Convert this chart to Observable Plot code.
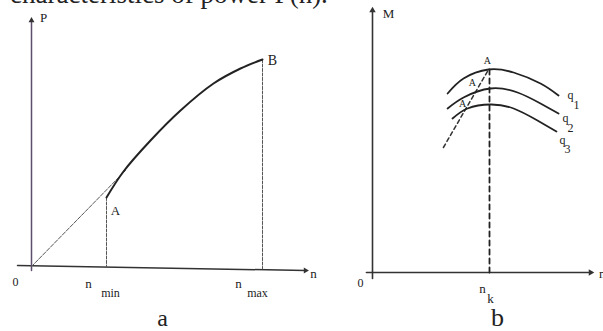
<!DOCTYPE html>
<html>
<head>
<meta charset="utf-8">
<script src="https://cdn.jsdelivr.net/npm/d3@7"></script>
<script src="https://cdn.jsdelivr.net/npm/@observablehq/plot@0.6"></script>
<style>
  html, body { margin: 0; padding: 0; background: #fff; }
  #fig { position: relative; width: 603px; height: 331px; overflow: hidden; font-family: "Liberation Serif", serif; }
  #head { position: absolute; left: 10px; top: -19px; font-size: 27px; line-height: 27px; color: #222; white-space: nowrap; }
  #pa, #pb { position: absolute; top: 0; }
  #pa { left: 0; }
  #pb { left: 300px; }
  svg { overflow: visible; }
</style>
</head>
<body>
<div id="fig">
  <div id="head">characteristics of power P(n).</div>
  <div id="pa"></div>
  <div id="pb"></div>
</div>
<script>
// ---------- Panel a : power P(n) ----------
const powerN = [3.0, 3.68, 4.76, 5.96, 7.28, 8.36, 9.24];
const powerP = [3.45, 4.75, 6.3, 7.8, 9.15, 9.9, 10.35];
const rayN = [0, 3.76];
const rayP = [0, 4.8];
const nMin = 3.0, nMax = 9.24;
const pAtMin = 3.45, pAtMax = 10.35;
const aAxisX = [-0.56, 10.96];   // n-axis extent
const aAxisY = [-0.2, 12.3];     // P-axis extent
const aLabels = [
  {n: 0.48, p: 12.45, t: "P", s: 13},
  {n: -0.64, p: -0.8, t: "0", s: 12},
  {n: 3.36, p: 2.8, t: "A", s: 13},
  {n: 9.64, p: 10.3, t: "B", s: 14},
  {n: 11.28, p: -0.35, t: "n", s: 13},
  {n: 2.28, p: -0.85, t: "n", s: 13},
  {n: 3.16, p: -1.35, t: "min", s: 12},
  {n: 8.28, p: -0.85, t: "n", s: 13},
  {n: 9.04, p: -1.35, t: "max", s: 12},
  {n: 5.24, p: -2.6, t: "a", s: 24}
];

// ---------- Panel b : torque M(n) ----------
const q1N = [3.21, 3.89, 4.96, 6.03, 7.18, 7.95];
const q1M = [8.95, 9.7, 10.15, 10.0, 9.45, 8.85];
const q2N = [3.21, 3.89, 5.04, 6.2, 7.18, 7.95];
const q2M = [8.2, 8.75, 9.2, 9.0, 8.45, 7.95];
const q3N = [3.42, 4.06, 5.04, 6.03, 7.05, 7.86];
const q3M = [7.7, 8.2, 8.4, 8.2, 7.6, 7.05];
const optN = [3.03, 4.96];
const optM = [6.25, 10.15];
const nK = 5.0, mAtK = 10.15;
const bAxisX = [-0.26, 9.32];
const bAxisY = [-0.3, 13.1];
const bLabels = [
  {n: 0.68, m: 12.95, t: "M", s: 13},
  {n: -0.51, m: -0.55, t: "0", s: 12},
  {n: 9.82, m: -0.05, t: "n", s: 13},
  {n: 4.7, m: -0.8, t: "n", s: 13},
  {n: 5.04, m: -1.3, t: "k", s: 13},
  {n: 5.34, m: -2.25, t: "b", s: 26},
  {n: 4.91, m: 10.6, t: "A", s: 10},
  {n: 4.27, m: 9.5, t: "A", s: 10},
  {n: 3.85, m: 8.45, t: "A", s: 10},
  {n: 8.46, m: 8.85, t: "q", s: 12},
  {n: 8.72, m: 8.35, t: "1", s: 12},
  {n: 8.25, m: 7.7, t: "q", s: 12},
  {n: 8.46, m: 7.2, t: "2", s: 12},
  {n: 8.12, m: 6.6, t: "q", s: 12},
  {n: 8.33, m: 6.15, t: "3", s: 12}
];

const zip = (xs, ys) => xs.map((x, i) => ({x, y: ys[i]}));
const ink = "#222";
const serif = "Liberation Serif";

const plotA = Plot.plot({
  width: 325, height: 331, margin: 0,
  style: {background: "transparent", overflow: "visible"},
  x: {domain: [0, 10], range: [31, 281], axis: null},
  y: {domain: [0, 10], range: [266, 66], axis: null},
  marks: [
    Plot.line([{x: aAxisX[0], y: 0.05}, {x: aAxisX[1], y: -0.2}], {x: "x", y: "y", stroke: "#333", strokeWidth: 1.5}),
    Plot.line([{x: 0, y: aAxisY[0]}, {x: 0, y: aAxisY[1]}], {x: "x", y: "y", stroke: "#5d4d6d", strokeWidth: 1.5}),
    Plot.dot([{x: 0, y: aAxisY[1]}], {x: "x", y: "y", symbol: "triangle", r: 2.2, fill: "#333", stroke: null}),
    Plot.dot([{x: aAxisX[1], y: -0.2}], {x: "x", y: "y", symbol: "triangle", r: 2.2, fill: "#333", stroke: null, rotate: 90}),
    Plot.line([{x: nMin, y: pAtMin}, {x: nMin, y: 0}], {x: "x", y: "y", stroke: "#555", strokeWidth: 1, strokeDasharray: "3,1.5"}),
    Plot.line([{x: nMax, y: pAtMax}, {x: nMax, y: -0.1}], {x: "x", y: "y", stroke: "#555", strokeWidth: 1, strokeDasharray: "3,1.5"}),
    Plot.line(zip(rayN, rayP), {x: "x", y: "y", stroke: "#555", strokeWidth: 1, strokeDasharray: "4,1.5"}),
    Plot.line(zip(powerN, powerP), {x: "x", y: "y", stroke: ink, strokeWidth: 2, curve: "catmull-rom"}),
    Plot.text(aLabels, {x: "n", y: "p", text: "t", fontSize: "s", fill: "#222", fontFamily: serif})
  ]
});
document.getElementById("pa").appendChild(plotA);

const plotB = Plot.plot({
  width: 303, height: 331, margin: 0,
  style: {background: "transparent", overflow: "visible"},
  x: {domain: [0, 5], range: [72, 189], axis: null},
  y: {domain: [0, 10], range: [272, 72], axis: null},
  marks: [
    Plot.line([{x: bAxisX[0], y: 0}, {x: bAxisX[1], y: 0}], {x: "x", y: "y", stroke: "#333", strokeWidth: 1.6}),
    Plot.line([{x: 0, y: bAxisY[0]}, {x: 0, y: bAxisY[1]}], {x: "x", y: "y", stroke: "#333", strokeWidth: 1.6}),
    Plot.dot([{x: 0, y: bAxisY[1]}], {x: "x", y: "y", symbol: "triangle", r: 2.4, fill: "#333", stroke: null}),
    Plot.dot([{x: bAxisX[1], y: 0}], {x: "x", y: "y", symbol: "triangle", r: 2.4, fill: "#333", stroke: null, rotate: 90}),
    Plot.line([{x: nK, y: mAtK}, {x: nK, y: 0}], {x: "x", y: "y", stroke: "#222", strokeWidth: 1.8, strokeDasharray: "5,4"}),
    Plot.line(zip(optN, optM), {x: "x", y: "y", stroke: "#333", strokeWidth: 1.5, strokeDasharray: "4,3"}),
    Plot.line(zip(q1N, q1M), {x: "x", y: "y", stroke: ink, strokeWidth: 1.8, curve: "natural"}),
    Plot.line(zip(q2N, q2M), {x: "x", y: "y", stroke: ink, strokeWidth: 1.8, curve: "natural"}),
    Plot.line(zip(q3N, q3M), {x: "x", y: "y", stroke: ink, strokeWidth: 1.8, curve: "natural"}),
    Plot.text(bLabels, {x: "n", y: "m", text: "t", fontSize: "s", fill: "#222", fontFamily: serif})
  ]
});
document.getElementById("pb").appendChild(plotB);
</script>
</body>
</html>
